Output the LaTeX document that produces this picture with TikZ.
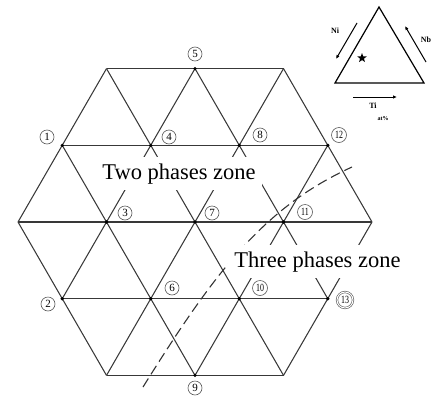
\documentclass[tikz,border=0pt]{standalone}
\usepackage{fontspec}
\setmainfont{Liberation Serif}
\usetikzlibrary{arrows.meta,shapes.geometric}
\begin{document}
\begin{tikzpicture}[x=1pt,y=-1pt,
  grid/.style={draw=black!78,line width=1.05pt},
  vdot/.style={circle,fill=black,inner sep=0,minimum size=3.6pt},
  lab/.style={circle,draw=black!65,line width=0.6pt,fill=white,inner sep=0,minimum size=14pt,font=\fontsize{11}{11}\selectfont},
  zone/.style={fill=white,inner xsep=6pt,inner ysep=6pt,anchor=base,font=\fontsize{22.5}{24}\selectfont},
  small/.style={font=\fontsize{8}{8}\selectfont\bfseries},
  arr/.style={line width=1pt,-{Latex[length=4pt,width=3.5pt]}}
]
\useasboundingbox (0,0) rectangle (433,399);
% lattice coordinates
\coordinate (t1) at (106.5,68.6);
\coordinate (n5) at (195,68.6);
\coordinate (t3) at (283.5,68.6);
\coordinate (n1) at (62.25,145.3);
\coordinate (n4) at (150.75,145.3);
\coordinate (n8) at (239.25,145.3);
\coordinate (n12) at (327.75,145.3);
\coordinate (m0) at (18,222);
\coordinate (n3) at (106.5,222);
\coordinate (n7) at (195,222);
\coordinate (n11) at (283.5,222);
\coordinate (m4) at (372,222);
\coordinate (n2) at (62.25,298.7);
\coordinate (n6) at (150.75,298.7);
\coordinate (n10) at (239.25,298.7);
\coordinate (n13) at (327.75,298.7);
\coordinate (b1) at (106.5,375.4);
\coordinate (n9) at (195,375.4);
\coordinate (b3) at (283.5,375.4);
% horizontal lines
\draw[grid] (t1) -- (t3);
\draw[grid] (n1) -- (n12);
\draw[grid] (m0) -- (m4);
\draw[grid] (n2) -- (n13);
\draw[grid] (b1) -- (b3);
% down-right lines
\draw[grid] (m0) -- (b1);
\draw[grid] (n1) -- (n9);
\draw[grid] (t1) -- (b3);
\draw[grid] (n5) -- (n13);
\draw[grid] (t3) -- (m4);
% down-left lines
\draw[grid] (t1) -- (m0);
\draw[grid] (n5) -- (n2);
\draw[grid] (t3) -- (b1);
\draw[grid] (n12) -- (n9);
\draw[grid] (m4) -- (b3);
% dots
\foreach \p in {n1,n2,n3,n4,n5,n6,n7,n8,n9,n10,n11,n12,n13}
  \node[vdot] at (\p) {};
% dashed boundary
\coordinate (d0) at (143,387);
\coordinate (d1) at (352,167);
\draw[black!80,line width=1.1pt,dash pattern=on 10pt off 5pt] (d0) .. controls (213,275) and (262,208) .. (d1);
% zone labels
\node[zone] (two) at (179,179) {Two phases zone};
\node[zone] (three) at (317.5,267) {Three phases zone};
% circled labels
\node[lab] (l1) at (47,137) {1};
\node[lab] (l2) at (48,304) {2};
\node[lab] (l3) at (125,213) {3};
\node[lab] (l4) at (169,137) {4};
\node[lab] (l5) at (195,54) {5};
\node[lab] (l6) at (172,288) {6};
\node[lab] (l7) at (212,213) {7};
\node[lab] (l8) at (260,135) {8};
\node[lab] (l9) at (195,388) {9};
\node[lab,minimum size=15pt] (l10) at (260,288) {\scalebox{0.72}[1]{10}};
\node[lab,minimum size=15pt] (l11) at (305,212) {\scalebox{0.72}[1]{11}};
\node[lab,minimum size=15pt] (l12) at (339,135) {\scalebox{0.72}[1]{12}};
\node[lab,minimum size=16pt,double=white,double distance=1pt] (l13) at (345,300) {\scalebox{0.72}[1]{13}};
% inset triangle
\coordinate (ta) at (379,7);
\coordinate (tb) at (335,83);
\coordinate (tc) at (424,83);
\draw[black,line width=1.2pt] (ta) -- (tb) -- (tc) -- cycle;
\node[star,star points=5,star point ratio=2.4,fill=black,inner sep=0,minimum size=10pt] (st) at (362,58) {};
\coordinate (a1s) at (357,23);
\coordinate (a1e) at (336,59);
\draw[arr] (a1s) -- (a1e);
\coordinate (a2s) at (426,62);
\coordinate (a2e) at (405,26);
\draw[arr] (a2s) -- (a2e);
\coordinate (a3s) at (353,97);
\coordinate (a3e) at (397,97);
\draw[arr] (a3s) -- (a3e);
\node[small] (ni) at (335,31) {Ni};
\node[small] (nb) at (426,40) {Nb};
\node[small] (ti) at (373,106) {Ti};
\node[font=\fontsize{6}{6}\selectfont\bfseries] (at) at (383,119) {at\%};
\end{tikzpicture}
\end{document}
